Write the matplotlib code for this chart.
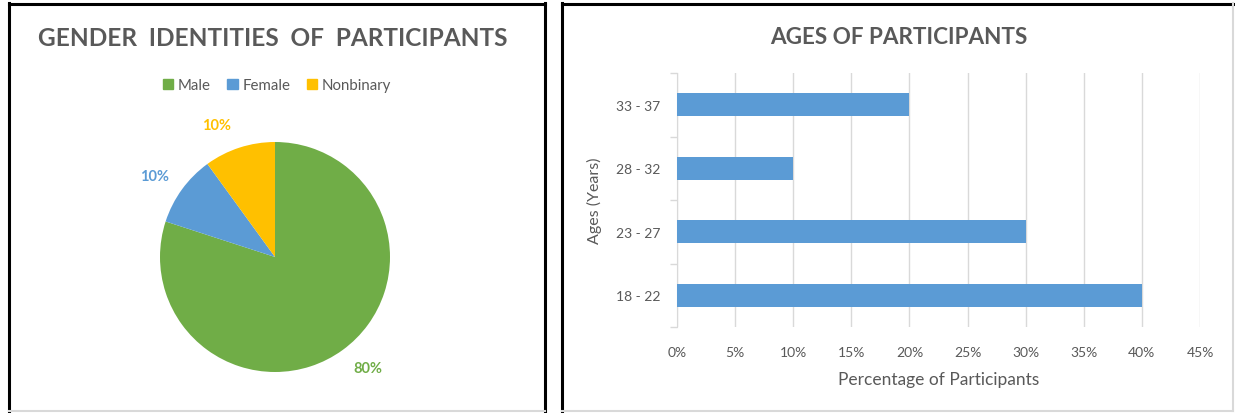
import matplotlib
matplotlib.use("Agg")
import matplotlib.pyplot as plt
import matplotlib.ticker as mticker
from matplotlib.lines import Line2D
import numpy as np

plt.rcParams["font.family"] = ["Lato", "DejaVu Sans"]

# ---------------- data ----------------
gender_labels = ["Male", "Female", "Nonbinary"]
gender_share = [80, 10, 10]
gender_colors = ["#70AD47", "#5B9BD5", "#FFC000"]

age_groups = ["18 - 22", "23 - 27", "28 - 32", "33 - 37"]
age_share = [0.40, 0.30, 0.10, 0.20]
bar_color = "#5B9BD5"

text_gray = "#595959"
grid_gray = "#D9D9D9"

W, H = 1235, 414
fig = plt.figure(figsize=(W / 100, H / 100), dpi=100)
fig.patch.set_facecolor("white")


def px(x0, y0, w, h):
    # pixel box (top-left origin) -> figure fraction rect
    return [x0 / W, 1 - (y0 + h) / H, w / W, h / H]


def fline(xs, ys, color, lw):
    fig.add_artist(Line2D([x / W for x in xs], [1 - y / H for y in ys],
                          color=color, lw=lw, transform=fig.transFigure))


# panel frames
fline([9, 9], [4, 412], "black", 2.2)
fline([9, 545], [4.5, 4.5], "black", 2.2)
fline([545, 545], [4, 412], "black", 2.2)
fline([9, 545], [412, 412], grid_gray, 1.5)
fline([562, 562], [4, 412], "black", 2.2)
fline([562, 1233], [4.5, 4.5], "black", 2.2)
fline([1233, 1233], [4, 412], grid_gray, 1.5)
fline([562, 1233], [412, 412], grid_gray, 1.5)

# ---------------- pie ----------------
r = 115
cx, cy = 275, 258
ax1 = fig.add_axes(px(cx - r, cy - r, 2 * r, 2 * r))
wedges, texts = ax1.pie(gender_share, colors=gender_colors, startangle=90,
                        counterclock=False, labels=[f"{v}%" for v in gender_share],
                        labeldistance=1.25,
                        textprops=dict(fontsize=10.5, fontweight="bold"))
# nudge labels a bit like Excel's best-fit placement
label_angle_shift = [4, 2, 6]
for t, w, c, sh in zip(texts, wedges, gender_colors, label_angle_shift):
    t.set_color(c)
    ang = np.deg2rad((w.theta1 + w.theta2) / 2 + sh)
    t.set_position((1.26 * np.cos(ang), 1.26 * np.sin(ang)))
    t.set_ha("center")
    t.set_va("center")
ax1.set_xlim(-1, 1)
ax1.set_ylim(-1, 1)
ax1.set_aspect("equal")
ax1.axis("off")

fig.text(273 / W, 1 - 38 / H, "GENDER  IDENTITIES  OF  PARTICIPANTS", ha="center",
         va="center", fontsize=17.6, fontweight="bold", color=text_gray)
handles = [plt.Rectangle((0, 0), 1, 1, color=c) for c in gender_colors]
fig.legend(handles, gender_labels, loc="center", bbox_to_anchor=(277 / W, 1 - 86 / H),
           ncol=3, frameon=False, fontsize=10.8, handlelength=0.7, handleheight=0.7,
           handletextpad=0.3, columnspacing=1.1, labelcolor=text_gray)

# ---------------- bars ----------------
ax2 = fig.add_axes(px(677, 74, 523, 254))
y = np.arange(len(age_groups))
ax2.barh(y, age_share, height=0.355, color=bar_color, zorder=3)
ax2.set_xlim(0, 0.45)
ax2.set_ylim(-0.5, len(age_groups) - 0.5)
ax2.xaxis.set_major_locator(mticker.MultipleLocator(0.05))
ax2.xaxis.set_major_formatter(mticker.PercentFormatter(1.0, decimals=0))
ax2.set_yticks(y)
ax2.set_yticklabels(age_groups)
ax2.yaxis.set_minor_locator(mticker.FixedLocator(np.arange(-0.5, len(age_groups), 1)))
ax2.tick_params(axis="y", which="major", length=0, pad=12, labelsize=10, labelcolor=text_gray)
ax2.tick_params(axis="y", which="minor", length=5, color=grid_gray, width=1)
ax2.tick_params(axis="x", length=0, pad=14, labelsize=10, labelcolor=text_gray)
ax2.grid(axis="x", color=grid_gray, lw=1, zorder=0)
for s in ["top", "right", "bottom"]:
    ax2.spines[s].set_visible(False)
ax2.spines["left"].set_color(grid_gray)
ax2.set_xlabel("Percentage of Participants", fontsize=12.5, color=text_gray, labelpad=9)
ax2.set_ylabel("Ages (Years)", fontsize=11.5, color=text_gray, labelpad=10)
fig.text(899 / W, 1 - 37 / H, "AGES OF PARTICIPANTS", ha="center", va="center",
         fontsize=16.2, fontweight="bold", color=text_gray)

fig.savefig("out.png", dpi=100)
